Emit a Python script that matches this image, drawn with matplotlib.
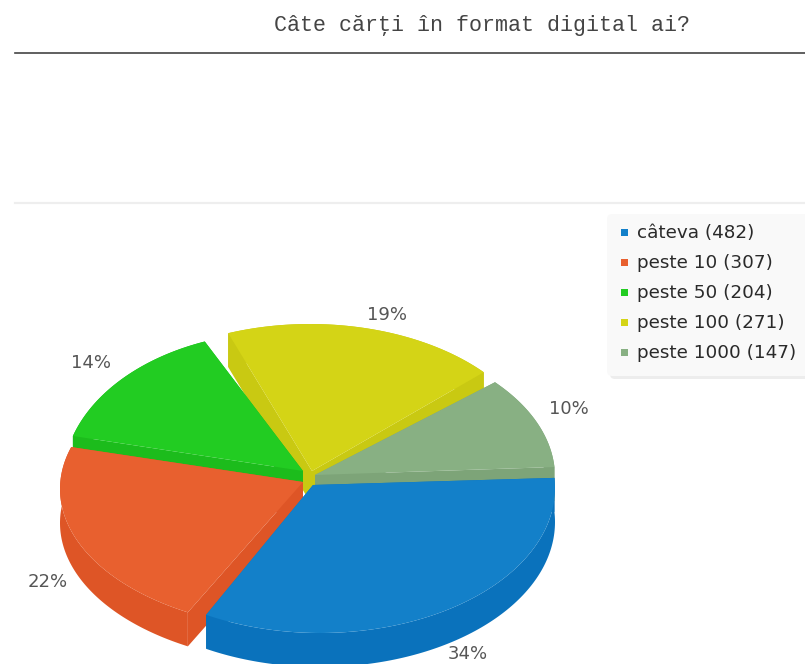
# -*- coding: utf-8 -*-
# 3D style pie of how many digital books people own
import numpy as np
import matplotlib.pyplot as plt
from matplotlib.patches import FancyBboxPatch, Rectangle

title = "Câte cărţi în format digital ai?"
categories = ["câteva", "peste 10", "peste 50", "peste 100", "peste 1000"]
counts = [482, 307, 204, 271, 147]

top_colors = ["#1380C9", "#E8602F", "#22CC22", "#D4D416", "#88B083"]
side_colors = ["#0A72BC", "#DE5526", "#1CBC1C", "#C9C912", "#7DA478"]

# pixel layout, slices are pulled apart a little so each has its own rim ellipse
tips = [(313, 485), (303, 482), (303, 471), (312, 471), (315, 475)]
rims = [(320, 488, 235, 145), (308, 489, 248, 141), (282, 480, 219, 148),
        (310, 467, 232, 143), (316, 477, 239, 143)]
depth = 34
label_pos = [(468, 654), (48, 582), (91, 363), (387, 315), (569, 409)]
start_angle = -4
draw_order = [3, 2, 4, 1, 0]

fig = plt.figure(figsize=(8.05, 6.64), dpi=100)
ax = fig.add_axes([0, 0, 1, 1])
ax.set_xlim(0, 805)
ax.set_ylim(664, 0)
ax.axis("off")

ax.text(482, 25, title, family="Liberation Mono", fontsize=15.6, color="#444444",
        ha="center", va="center")
ax.plot([15, 805], [53, 53], color="#444444", lw=1.2)
ax.plot([15, 805], [203, 203], color="#EEEEEE", lw=1.6)

total = sum(counts)
edges = start_angle + np.cumsum([0] + counts) / total * 360

for i in draw_order:
    tx, ty = tips[i]
    cx, cy, rx, ry = rims[i]
    a = np.radians(np.linspace(edges[i], edges[i + 1], 120))
    x = cx + rx * np.cos(a)
    y = cy + ry * np.sin(a)
    # cut faces
    for j in (0, -1):
        ax.fill([tx, x[j], x[j], tx], [ty, y[j], y[j] + depth, ty + depth],
                color=side_colors[i], lw=0)
    # outer wall
    ax.fill(np.concatenate([x, x[::-1]]), np.concatenate([y, (y + depth)[::-1]]),
            color=side_colors[i], lw=0)
    # top surface
    ax.fill(np.append(x, tx), np.append(y, ty), color=top_colors[i], lw=0)

for i, (lx, ly) in enumerate(label_pos):
    ax.text(lx, ly, f"{counts[i] / total * 100:.0f}%", fontsize=13, color="#555555",
            ha="center", va="center")

# legend box
ax.add_patch(FancyBboxPatch((610, 217), 200, 162, boxstyle="round,pad=0,rounding_size=5",
                            fc="#EDEDED", ec="none"))
ax.add_patch(FancyBboxPatch((607, 214), 205, 162, boxstyle="round,pad=0,rounding_size=5",
                            fc="#F9F9F9", ec="none"))
for i, name in enumerate(categories):
    row = 233 + i * 30
    ax.add_patch(Rectangle((621, row - 4.5), 7, 7, fc=top_colors[i], ec="none"))
    ax.text(637, row, f"{name} ({counts[i]})", fontsize=13.2, color="#2A2A2A", va="center")

fig.savefig("out.png", dpi=100)
